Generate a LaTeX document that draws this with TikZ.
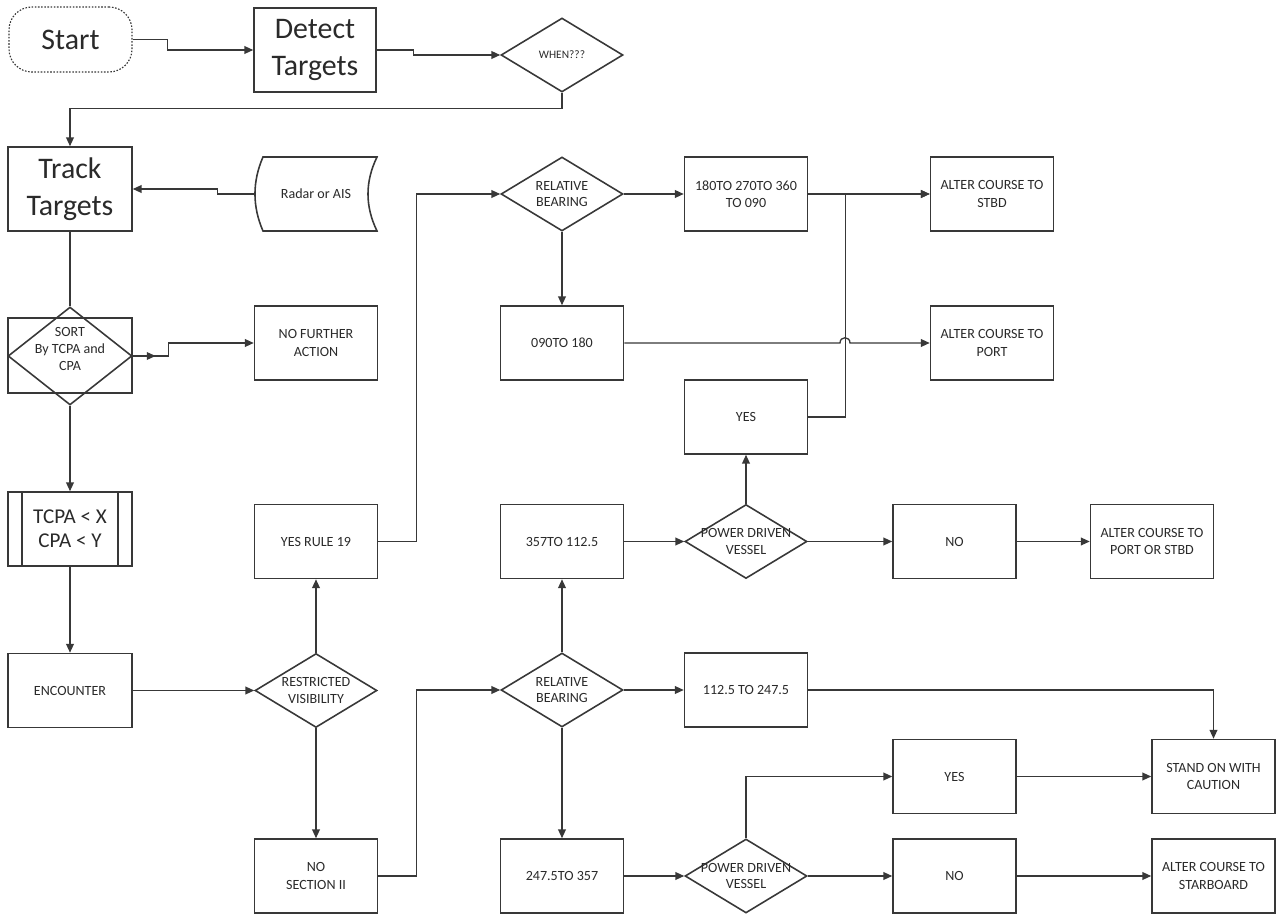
\documentclass[tikz,border=0pt]{standalone}
\usepackage{fontspec}
\setmainfont{Carlito}
\usetikzlibrary{shapes.geometric,arrows.meta,decorations.markings}
\definecolor{ln}{HTML}{383838}
\definecolor{tx}{HTML}{2A2A2A}
\begin{document}
\begin{tikzpicture}[x=0.02cm,y=-0.02cm,
  every node/.style={text=tx, align=center, inner sep=0pt, font=\fontsize{8}{9.8}\selectfont},
  box/.style={draw=ln, line width=0.9pt, minimum width=2.46cm, minimum height=1.48cm},
  dia/.style={diamond, draw=ln, line width=0.9pt, minimum width=2.44cm, minimum height=1.48cm},
  big/.style={font=\fontsize{17}{21}\selectfont},
  mid/.style={font=\fontsize{12}{13.5}\selectfont},
  dtext/.style={text=tx, align=center, font=\fontsize{8}{9.6}\selectfont},
  tip/.style={-{Triangle[length=5pt,width=4.4pt]}},
  conn/.style={draw=ln, line width=0.75pt, tip},
  plain/.style={draw=ln, line width=0.75pt}
]
\useasboundingbox (0,0) rectangle (1276,915);

% top row
\node[draw=ln, line width=0.65pt, dash pattern=on 0.9pt off 0.9pt, rounded corners=13pt,
      minimum width=2.46cm, minimum height=1.3cm, big] (start) at (70.5,39.5) {Start};
\node[box, big, minimum width=2.44cm, minimum height=1.68cm] (detect) at (315,50) {Detect\\Targets};
\node[dia, label={[dtext,font=\fontsize{6.5}{8}\selectfont]center:{WHEN???}}] (when) at (562,55) {};

% left column
\node[box, big, minimum width=2.48cm, minimum height=1.68cm] (track) at (70,189) {Track\\Targets};
\node[minimum width=2.44cm, minimum height=1.48cm] (radar) at (316,194) {Radar or AIS};
\draw[ln, line width=0.9pt] (263,157) -- (377,157) .. controls (365,181.7) and (365,206.3) .. (377,231)
   -- (263,231) .. controls (252.3,206.3) and (252.3,181.7) .. (263,157) -- cycle;

\node[box, minimum width=2.48cm, minimum height=1.5cm] (sortbox) at (70,355.5) {};
\node[dia, minimum width=2.48cm, minimum height=1.96cm,
      label={[dtext,yshift=0.14cm]center:{SORT\\By TCPA and\\CPA}}] (sort) at (70,356) {};
\node[box] (nfa) at (316,343) {NO FURTHER\\ACTION};

\node[box, mid, minimum width=2.48cm] (tcpa) at (70,529) {TCPA < X\\CPA < Y};
\draw[ln, line width=0.9pt] ([xshift=0.3cm]tcpa.north west) -- ([xshift=0.3cm]tcpa.south west)
   ([xshift=-0.3cm]tcpa.north east) -- ([xshift=-0.3cm]tcpa.south east);
\node[box, minimum width=2.48cm] (enc) at (70,690.5) {ENCOUNTER};

\node[dia, label={[dtext]center:{RESTRICTED\\VISIBILITY}}] (rv) at (316,690.5) {};
\node[box] (yes19) at (316,541.5) {YES RULE 19};
\node[box] (nosec) at (316,876) {NO\\SECTION II};

% upper right part
\node[dia, label={[dtext]center:{RELATIVE\\BEARING}}] (rb1) at (562,194) {};
\node[box] (r180) at (746,194) {180TO 270TO 360\\TO 090};
\node[box] (stbd) at (992,194) {ALTER COURSE TO\\STBD};
\node[box] (r090) at (562,343) {090TO 180};
\node[box] (port) at (992,343) {ALTER COURSE TO\\PORT};
\node[box] (yes1) at (746,417) {YES};
\node[box] (r357) at (562,541.5) {357TO 112.5};
\node[dia, label={[dtext]center:{POWER DRIVEN\\VESSEL}}] (pdv1) at (746,541.5) {};
\node[box] (no1) at (954.5,541.5) {NO};
\node[box] (pcs) at (1152,541.5) {ALTER COURSE TO\\PORT OR STBD};

% lower right part
\node[dia, label={[dtext]center:{RELATIVE\\BEARING}}] (rb2) at (562,690) {};
\node[box] (r112) at (746,690) {112.5 TO 247.5};
\node[box] (yes2) at (954.5,776.5) {YES};
\node[box] (standon) at (1213.5,776.5) {STAND ON WITH\\CAUTION};
\node[box] (r247) at (562,876) {247.5TO 357};
\node[dia, label={[dtext]center:{POWER DRIVEN\\VESSEL}}] (pdv2) at (746,876) {};
\node[box] (no2) at (954.5,876) {NO};
\node[box] (stbd2) at (1213.5,876) {ALTER COURSE TO\\STARBOARD};

% connectors
\draw[conn] (start.east) -- ++(35,0) |- (detect.west);
\draw[conn] (detect.east) -- ++(37,0) |- (when.west);
\draw[conn] (when.south) -- ++(0,16) -| (track.north);
\draw[conn] (radar.west) -- ++(-37,0) |- (track.east);
\draw[plain] (track.south) -- (sort.north);
\draw[conn, postaction={decorate}, decoration={markings, mark=at position 0.17 with {\arrow{Triangle[length=5pt,width=4.4pt]}}}]
   (sort.east) -- ++(36,0) |- (nfa.west);
\draw[conn] (sort.south) -- (tcpa.north);
\draw[conn] (tcpa.south) -- (enc.north);
\draw[conn] (enc.east) -- (rv.west);
\draw[conn] (rv.north) -- (yes19.south);
\draw[conn] (rv.south) -- (nosec.north);
\draw[conn] (yes19.east) -- ++(38,0) |- (rb1.west);
\draw[conn] (rb1.east) -- (r180.west);
\draw[conn] (r180.east) -- (stbd.west);
\draw[conn] (rb1.south) -- (r090.north);
\draw[conn] (r090.east) -- (840,343) .. controls (840,336) and (850,336) .. (850,343) -- (port.west);
\draw[conn] (yes1.east) -- ++(37,0) |- (stbd.west);
\draw[conn] (pdv1.north) -- (yes1.south);
\draw[conn] (r357.east) -- (pdv1.west);
\draw[conn] (pdv1.east) -- (no1.west);
\draw[conn] (no1.east) -- (pcs.west);
\draw[conn] (nosec.east) -- ++(38,0) |- (rb2.west);
\draw[conn] (rb2.north) -- (r357.south);
\draw[conn] (rb2.east) -- (r112.west);
\draw[conn] (r112.east) -| (standon.north);
\draw[conn] (rb2.south) -- (r247.north);
\draw[conn] (r247.east) -- (pdv2.west);
\draw[conn] (pdv2.north) |- (yes2.west);
\draw[conn] (yes2.east) -- (standon.west);
\draw[conn] (pdv2.east) -- (no2.west);
\draw[conn] (no2.east) -- (stbd2.west);
\end{tikzpicture}
\end{document}
